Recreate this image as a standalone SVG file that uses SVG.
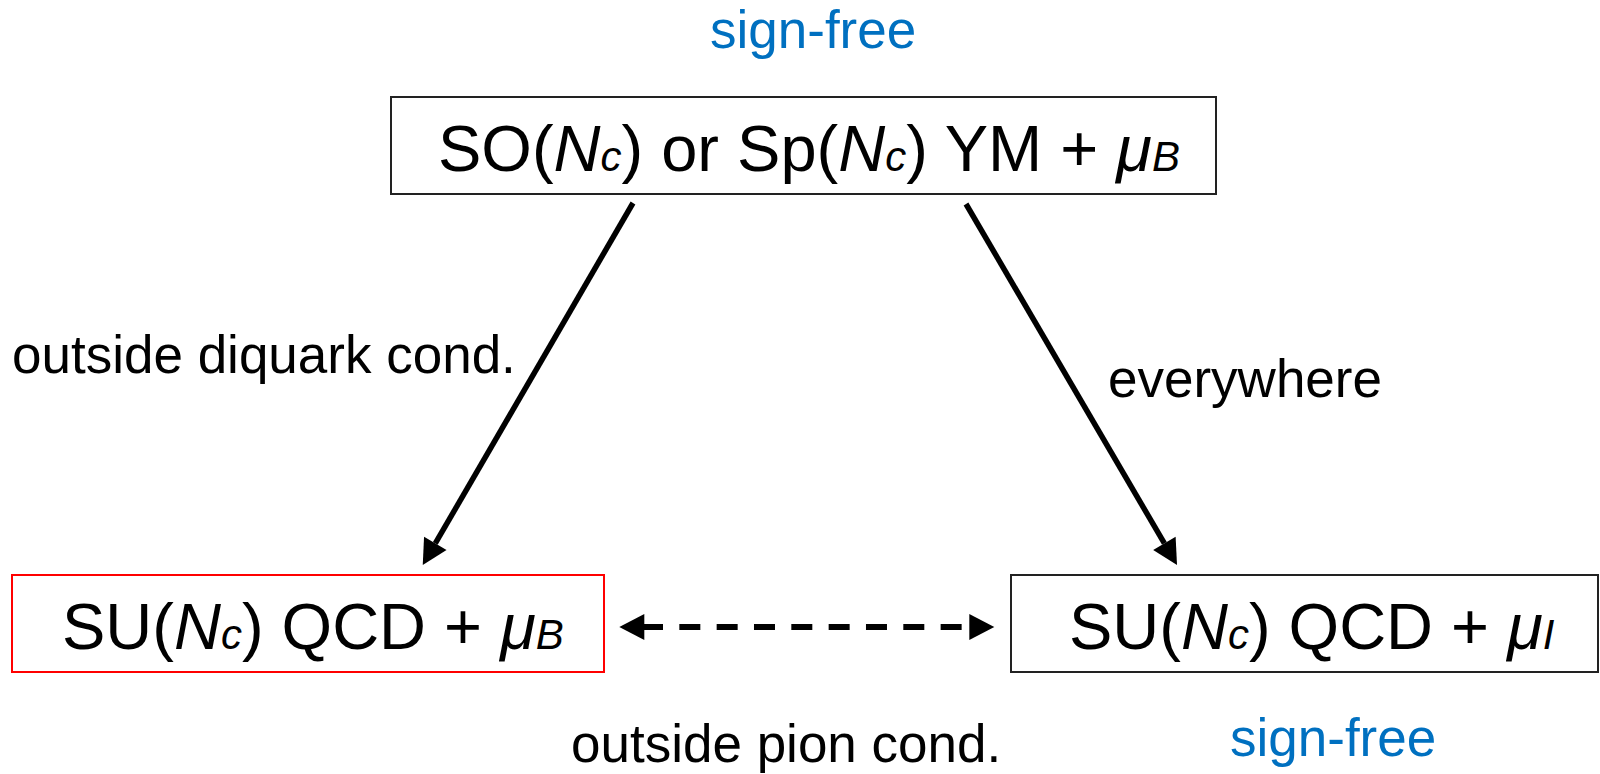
<svg xmlns="http://www.w3.org/2000/svg" width="1600" height="774" viewBox="0 0 1600 774">
<style>
  text { font-family: "Liberation Sans", Arial, sans-serif; fill: #000; }
  .big { font-size: 65px; }
  .lbl { font-size: 53px; }
  .blue { fill: #0070C0; }
  .it { font-style: italic; }
  .sub { font-style: italic; font-size: 42px; }
  .box { fill: #fff; stroke: #222; stroke-width: 2; }
  .redbox { fill: #fff; stroke: #ff0000; stroke-width: 2; }
  .conn { fill: none; stroke: #000; stroke-width: 5.5; }
  .dash { fill: none; stroke: #000; stroke-width: 6; stroke-dasharray: 21 16.33; }
  .head { fill: none; stroke: none; }
</style>
<defs>
  <marker id="arrow" markerUnits="userSpaceOnUse" markerWidth="26" markerHeight="26" refX="0" refY="13" orient="auto" overflow="visible">
    <path d="M0,0 L25,13 L0,26 z" fill="#000"/>
  </marker>
</defs>
<rect width="1600" height="774" fill="#fff"/>

<g id="label-signfree-top"><text class="lbl blue" x="710" y="48">sign-free</text></g>

<g id="node-top">
  <rect class="box" x="391" y="97" width="825" height="97"/>
  <text class="big" x="438" y="171">SO(<tspan class="it">N</tspan><tspan class="sub">c</tspan>) or Sp(<tspan class="it">N</tspan><tspan class="sub">c</tspan>) YM + <tspan class="it">μ</tspan><tspan class="sub">B</tspan></text>
</g>

<g id="node-left">
  <rect class="redbox" x="12" y="575" width="592" height="97"/>
  <text class="big" x="62" y="649">SU(<tspan class="it">N</tspan><tspan class="sub">c</tspan>) QCD + <tspan class="it">μ</tspan><tspan class="sub">B</tspan></text>
</g>

<g id="node-right">
  <rect class="box" x="1011" y="575" width="587" height="97"/>
  <text class="big" x="1069" y="649">SU(<tspan class="it">N</tspan><tspan class="sub">c</tspan>) QCD + <tspan class="it">μ</tspan><tspan class="sub">I</tspan></text>
</g>

<g id="connectors">
  <path class="conn" d="M633,203 L435.3,543.4" marker-end="url(#arrow)"/>
  <path class="conn" d="M966,204 L1164.4,543.4" marker-end="url(#arrow)"/>
  <path class="dash" d="M642,627 H962"/>
  <path class="head" d="M646,627 H644.3" marker-end="url(#arrow)"/>
  <path class="head" d="M967,627 H969.3" marker-end="url(#arrow)"/>
</g>

<g id="label-diquark"><text class="lbl" x="12" y="373">outside diquark cond.</text></g>
<g id="label-everywhere"><text class="lbl" x="1108" y="397">everywhere</text></g>
<g id="label-pion"><text class="lbl" x="571" y="762">outside pion cond.</text></g>
<g id="label-signfree-bottom"><text class="lbl blue" x="1230" y="756">sign-free</text></g>
</svg>
